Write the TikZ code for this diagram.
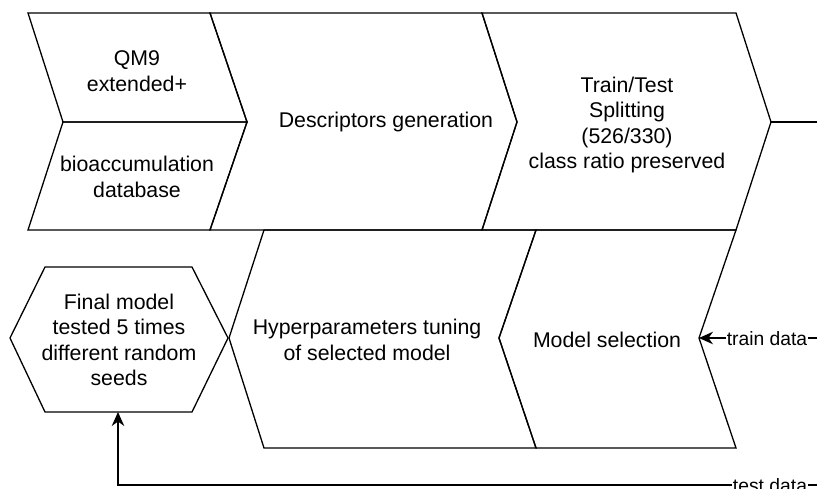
\documentclass[tikz,border=0pt]{standalone}
\usepackage{fontspec}
\setmainfont{Liberation Sans}
\usetikzlibrary{arrows.meta}
\tikzset{
  shp/.style={draw=black, line width=1.3pt, line join=miter},
  txt/.style={align=center, font=\fontsize{21.3}{25.5}\selectfont, inner sep=0pt},
  lbl/.style={font=\fontsize{19.3}{23}\selectfont, fill=white, inner sep=1pt},
  conn/.style={draw=black, line width=1.3pt, -{Stealth[length=14pt,width=12.5pt,inset=4.5pt]}},
  plain/.style={draw=black, line width=1.3pt}
}
\begin{document}
\begin{tikzpicture}[x=1pt,y=-1pt]
\useasboundingbox (0,0) rectangle (817,488);
\clip (0,0) rectangle (817,488);
\fill[white] (0,0) rectangle (817,488);
% top row
\draw[shp] (28,13) -- (210,13) -- (247,122) -- (63,122) -- cycle;
\draw[shp] (63,122) -- (247,122) -- (210,230) -- (28,230) -- cycle;
\draw[shp] (210,13) -- (482,13) -- (517,122) -- (482,230) -- (210,230) -- (247,122) -- cycle;
\draw[shp] (482,13) -- (736,13) -- (771,122) -- (736,230) -- (482,230) -- (517,122) -- cycle;
\coordinate (tttip) at (771,122);
% bottom row
\draw[shp] (45,267) -- (192,267) -- (228,338) -- (192,412) -- (45,412) -- (10,338) -- cycle;
\draw[shp] (264,230) -- (536,230) -- (499,338) -- (536,448) -- (264,448) -- (229,338) -- cycle;
\draw[shp] (536,230) -- (736,230) -- (699,338) -- (736,448) -- (536,448) -- (499,338) -- cycle;
\coordinate (msnotch) at (699,338);
\coordinate (hexb) at (118,412);
% texts
\node[txt] (qm9) at (137,71) {QM9\\extended+};
\node[txt] (bio) at (137,177) {bioaccumulation\\database};
\node[txt] (desc) at (386,122) {Descriptors generation};
\node[txt] (split) at (627,125) {Train/Test\\Splitting\\(526/330)\\class ratio preserved};
\node[txt] (final) at (119,340) {Final model\\tested 5 times\\different random\\seeds};
\node[txt] (hyper) at (367,340) {Hyperparameters tuning\\of selected model};
\node[txt] (msel) at (607,340) {Model selection};
% connectors
\coordinate (ttR) at (840,122);
\coordinate (trR) at (840,338);
\coordinate (teR) at (840,485);
\draw[plain] (tttip) -- (ttR);
\draw[conn] (trR) -- (msnotch);
\node[lbl] (trl) at (767,339) {train data};
\draw[conn] (teR) -| (hexb);
\node[lbl] (tel) at (770,486) {test data};
\end{tikzpicture}
\end{document}
